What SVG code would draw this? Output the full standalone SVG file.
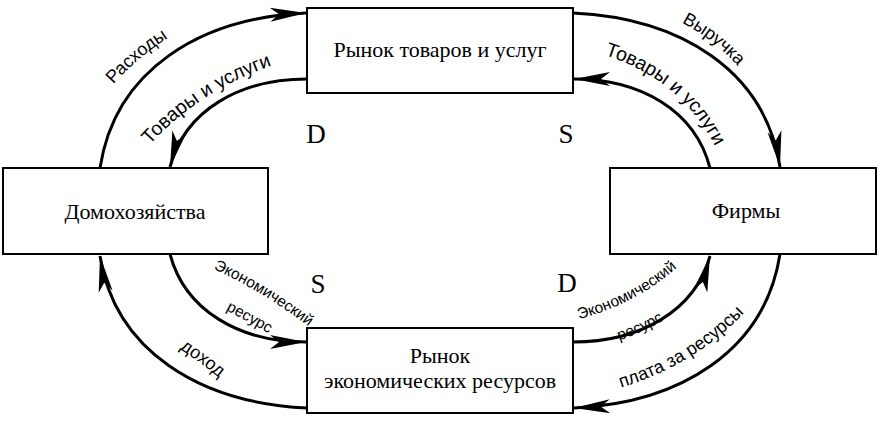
<svg xmlns="http://www.w3.org/2000/svg" xmlns:xlink="http://www.w3.org/1999/xlink" width="880" height="427" viewBox="0 0 880 427">
<style>
.box{fill:#fff;stroke:#000;stroke-width:2}
.main{font-family:"Liberation Serif","Times New Roman",serif;font-size:22px;fill:#000;text-anchor:middle}
.ds{font-family:"Liberation Serif","Times New Roman",serif;font-size:27px;fill:#000;text-anchor:middle}
.lbl{font-family:"Liberation Sans",Arial,sans-serif;font-size:18px;fill:#000}
.lbw{font-family:"Liberation Sans",Arial,sans-serif;font-size:19.5px;fill:#000}
.lbs{font-family:"Liberation Sans",Arial,sans-serif;font-size:15.5px;fill:#000}
.flow{fill:none;stroke:#000;stroke-width:3;marker-end:url(#ah)}
</style>
<defs>
<marker id="ah" markerUnits="userSpaceOnUse" viewBox="-37 -8 38 16" refX="0" refY="0" markerWidth="38" markerHeight="16" orient="auto">
<path d="M0,0 L-36,-7 L-27,0 L-36,7 Z" fill="#000"/>
</marker>
<path id="t1" d="M100,100 Q138,52 186,28"/>
<path id="t2" d="M139,158 Q192,90 288,60"/>
<path id="t3" d="M665,15 Q712,33 750,80"/>
<path id="t4" d="M588,50 Q688,76 722,162"/>
<path id="t5" d="M205,265 Q262,290 316,332"/>
<path id="t6" d="M211,303 Q247,320 283,342"/>
<path id="t7" d="M170,343 Q200,361 228,385"/>
<path id="t8" d="M620,388 Q695,365 745,312"/>
<path id="t9" d="M568,322 Q640,305 685,260"/>
<path id="t10" d="M608,344 Q643,334 674,314"/>
</defs>
<rect width="880" height="427" fill="#fff"/>
<g id="connectors">
<path class="flow" d="M100,168 C115,70 200,18 306,13"/>
<path class="flow" d="M307,79 C240,79 185,110 170,167"/>
<path class="flow" d="M573,13 C680,18 765,70 780,167"/>
<path class="flow" d="M710,168 C695,110 640,79 574,79"/>
<path class="flow" d="M170,254 C185,311 240,342 306,342"/>
<path class="flow" d="M307,408 C200,403 115,351 100,256"/>
<path class="flow" d="M573,342 C640,342 695,311 710,256"/>
<path class="flow" d="M780,254 C765,351 680,403 574,408"/>
</g>
<g id="labels">
<text class="lbl"><textPath xlink:href="#t1" startOffset="50%" text-anchor="middle">Расходы</textPath></text>
<text class="lbw"><textPath xlink:href="#t2" startOffset="50%" text-anchor="middle">Товары и услуги</textPath></text>
<text class="lbl"><textPath xlink:href="#t3" startOffset="50%" text-anchor="middle">Выручка</textPath></text>
<text class="lbw"><textPath xlink:href="#t4" startOffset="50%" text-anchor="middle">Товары и услуги</textPath></text>
<text class="lbs"><textPath xlink:href="#t5" startOffset="50%" text-anchor="middle">Экономический</textPath></text>
<text class="lbs"><textPath xlink:href="#t6" startOffset="50%" text-anchor="middle">ресурс</textPath></text>
<text class="lbl"><textPath xlink:href="#t7" startOffset="50%" text-anchor="middle">доход</textPath></text>
<text class="lbl"><textPath xlink:href="#t8" startOffset="50%" text-anchor="middle">плата за ресурсы</textPath></text>
<text class="lbs"><textPath xlink:href="#t9" startOffset="50%" text-anchor="middle">Экономический</textPath></text>
<text class="lbs"><textPath xlink:href="#t10" startOffset="50%" text-anchor="middle">ресурс</textPath></text>
<text class="ds" x="316" y="143">D</text>
<text class="ds" x="566" y="143">S</text>
<text class="ds" x="318" y="293">S</text>
<text class="ds" x="567" y="292">D</text>
</g>
<g id="goods-market">
<rect class="box" x="307" y="8" width="266" height="85"/>
<text class="main" x="440" y="57">Рынок товаров и услуг</text>
</g>
<g id="households">
<rect class="box" x="3" y="168" width="265" height="86"/>
<text class="main" x="135" y="219">Домохозяйства</text>
</g>
<g id="firms">
<rect class="box" x="610" y="168" width="266" height="86"/>
<text class="main" x="746" y="218">Фирмы</text>
</g>
<g id="resource-market">
<rect class="box" x="307" y="328" width="266" height="85"/>
<text class="main" x="440" y="363">Рынок</text>
<text class="main" x="440" y="388">экономических ресурсов</text>
</g>
</svg>
